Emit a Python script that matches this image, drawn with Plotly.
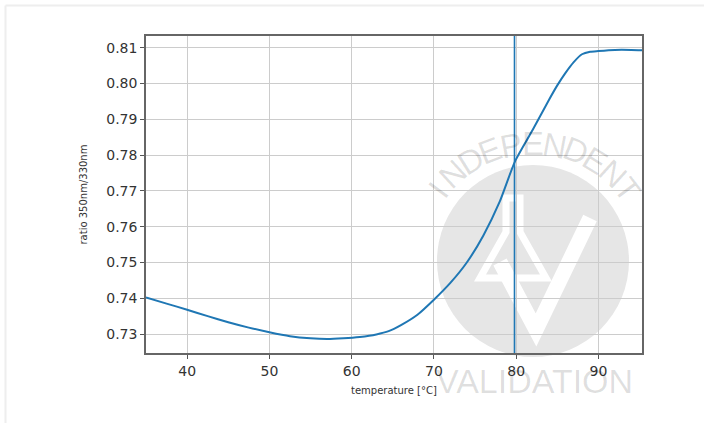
import math
import plotly.graph_objects as go

# ---- data ----
temperature = [35, 37.5, 40, 42.5, 45, 47.5, 50, 52.5, 55, 57, 59, 61, 63, 64.5,
               66, 68, 70, 72, 74, 76, 78, 79.85, 82, 84, 85, 86, 87, 88, 89, 90,
               92, 94, 95.3]
ratio = [0.7402, 0.7385, 0.7368, 0.7350, 0.7333, 0.7318, 0.7305, 0.7294, 0.7288,
         0.7286, 0.7288, 0.7292, 0.7299, 0.7308, 0.7325, 0.7354, 0.7396, 0.7443,
         0.7500, 0.7575, 0.7670, 0.7782, 0.7870, 0.7955, 0.7995, 0.8030, 0.8060,
         0.8082, 0.8089, 0.8091, 0.8094, 0.8094, 0.8093]
marker_temperature = 79.8
x_ticks = [40, 50, 60, 70, 80, 90]
y_ticks = [0.73, 0.74, 0.75, 0.76, 0.77, 0.78, 0.79, 0.80, 0.81]
y_ticklabels = ["0.73", "0.74", "0.75", "0.76", "0.77", "0.78", "0.79", "0.80", "0.81"]
x_title = "temperature [°C]"
y_title = "ratio 350nm/330nm"
wm_top = "INDEPENDENT"
wm_bottom = "VALIDATION"

# ---- layout geometry (pixels) ----
W, H = 704, 423
L, R, T, B = 146, 642, 36, 353
PW, PH = R - L, B - T

def px(x):
    return (x - L) / PW

def py(y):
    return (B - y) / PH

BLUE = "#1f77b4"
fig = go.Figure()

fig.add_trace(go.Scatter(x=temperature, y=ratio, mode="lines",
                         line=dict(color=BLUE, width=2, shape="spline", smoothing=0.6),
                         hoverinfo="skip", showlegend=False))

shapes = []
# watermark circle and white logo, under the grid
cx, cy, rad = 533, 261, 96
shapes.append(dict(type="circle", xref="paper", yref="paper", layer="below",
                   x0=px(cx - rad), x1=px(cx + rad), y0=py(cy + rad), y1=py(cy - rad),
                   fillcolor="#e6e6e6", line=dict(width=0)))
# flask
flask = [(506, 198), (520, 198), (520, 232), (546, 278), (480, 278), (506, 232)]
path = "M " + " L ".join(f"{px(a)},{py(b)}" for a, b in flask) + " Z"
shapes.append(dict(type="path", xref="paper", yref="paper", layer="below", path=path,
                   fillcolor="rgba(0,0,0,0)", line=dict(color="white", width=7)))
# check mark
check = [(500, 262), (536, 330), (590, 218)]
path = "M " + " L ".join(f"{px(a)},{py(b)}" for a, b in check)
shapes.append(dict(type="path", xref="paper", yref="paper", layer="below", path=path,
                   line=dict(color="white", width=15)))
# vertical marker line
shapes.append(dict(type="line", xref="x", yref="paper", x0=marker_temperature,
                   x1=marker_temperature, y0=0, y1=1, layer="above",
                   line=dict(color=BLUE, width=1.6)))
# outer image frame (light gray at top and left)
shapes.append(dict(type="line", xref="paper", yref="paper", x0=px(5.5), x1=px(710),
                   y0=py(5.5), y1=py(5.5), line=dict(color="#eeeeee", width=2)))
shapes.append(dict(type="line", xref="paper", yref="paper", x0=px(5.5), x1=px(5.5),
                   y0=py(5.5), y1=py(430), line=dict(color="#eeeeee", width=2)))

annotations = []
wm_color = "rgba(0,0,0,0.13)"
n = len(wm_top)
a0, a1 = 143.0, 37.0
for i, ch in enumerate(wm_top):
    th = a0 + (a1 - a0) * i / (n - 1)
    r = 118
    x = cx + r * math.cos(math.radians(th))
    y = cy - r * math.sin(math.radians(th))
    annotations.append(dict(text=ch, xref="paper", yref="paper", x=px(x), y=py(y),
                            showarrow=False, textangle=90 - th,
                            xanchor="center", yanchor="middle",
                            font=dict(family="Liberation Sans", size=33,
                                      color=wm_color)))
annotations.append(dict(text=wm_bottom, xref="paper", yref="paper", x=px(534), y=py(381),
                        showarrow=False, xanchor="center", yanchor="middle",
                        font=dict(family="Liberation Sans", size=34,
                                  color=wm_color)))
annotations.append(dict(text=x_title, xref="paper", yref="paper", x=0.5, y=py(390),
                        showarrow=False, xanchor="center", yanchor="middle",
                        font=dict(family="DejaVu Sans", size=10, color="#333333")))
annotations.append(dict(text=y_title, xref="paper", yref="paper", x=px(83), y=0.5,
                        showarrow=False, xanchor="center", yanchor="middle", textangle=-90,
                        font=dict(family="DejaVu Sans", size=10, color="#333333")))

axis_common = dict(showgrid=True, gridcolor="#cccccc", gridwidth=1.3,
                   showline=True, linecolor="#666666", linewidth=1.6, mirror=True,
                   ticks="outside", ticklen=4, tickwidth=1.2, tickcolor="#555555",
                   tickfont=dict(family="DejaVu Sans", size=14, color="#333333"),
                   zeroline=False)

fig.update_layout(
    width=W, height=H,
    margin=dict(l=L, r=W - R, t=T, b=H - B),
    paper_bgcolor="white", plot_bgcolor="white",
    xaxis=dict(range=[35, 95.3], tickvals=x_ticks, **axis_common),
    yaxis=dict(range=[0.7247, 0.8133], tickvals=y_ticks, ticktext=y_ticklabels, **axis_common),
    shapes=shapes, annotations=annotations, showlegend=False,
)

fig.write_html("out.html", config={"displayModeBar": False},
               post_script="document.body.style.margin='0';document.body.style.overflow='hidden';")
